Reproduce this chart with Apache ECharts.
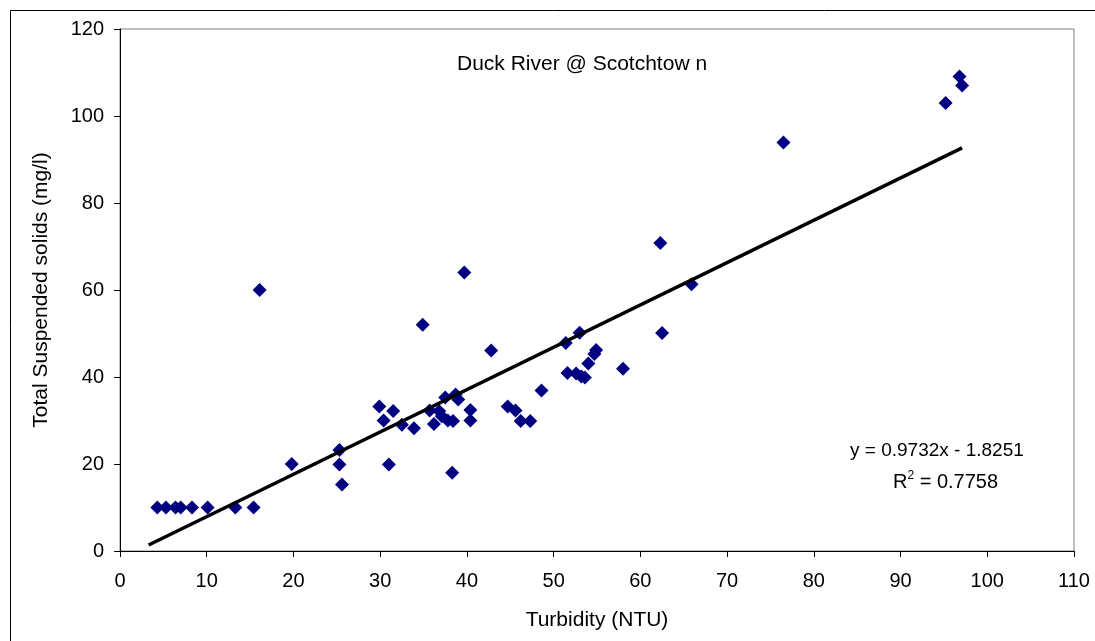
<!DOCTYPE html>
<html>
<head>
<meta charset="utf-8">
<title>Duck River @ Scotchtown</title>
<script src="https://cdn.jsdelivr.net/npm/echarts@6/dist/echarts.min.js"></script>
<style>
  html, body { margin: 0; padding: 0; background: #ffffff; }
  #chart { width: 1095px; height: 641px; }
</style>
</head>
<body>
<div id="chart"></div>
<script>
// Turbidity (NTU) readings and matching total suspended solids (mg/l)
const turbidity = [
  4.3, 5.3, 6.4, 7.0, 8.3, 10.1, 13.3, 15.4,
  16.1, 19.8, 25.3, 25.3, 25.6, 29.9, 30.4, 31.5,
  31.0, 32.5, 33.9, 34.9, 35.7, 36.8, 36.2, 37.1,
  37.5, 37.8, 38.4, 38.7, 39.0, 38.3, 39.7, 40.4,
  40.4, 42.8, 44.7, 45.6, 46.2, 47.3, 48.6, 51.4,
  51.6, 52.6, 53.0, 53.2, 53.6, 54.0, 54.7, 54.9,
  58.0, 62.3, 62.5, 65.9, 76.5, 95.2, 96.8, 97.1
];
const suspendedSolids = [
  10, 10, 10, 10, 10, 10, 10, 10,
  60, 20, 23.2, 19.9, 15.3, 33.2, 30.0, 32.2,
  19.9, 29.0, 28.2, 52.0, 32.3, 32.2, 29.2, 31.0,
  35.3, 30.0, 29.9, 36.0, 34.8, 18.0, 64.0, 32.4,
  30.0, 46.1, 33.2, 32.3, 29.9, 29.9, 36.9, 47.8,
  40.9, 40.8, 50.2, 40.1, 39.9, 43.1, 45.3, 46.2,
  41.9, 70.8, 50.1, 61.3, 93.9, 103.0, 109.1, 107.0
];

// Linear fit shown on the chart
const slope = 0.9732;
const intercept = -1.8251;
const rSquared = 0.7758;
const fitRange = [3.3, 97.1];

// Axis ticks
const xTicks = [0, 10, 20, 30, 40, 50, 60, 70, 80, 90, 100, 110];
const yTicks = [0, 20, 40, 60, 80, 100, 120];

const points = turbidity.map((x, i) => [x, suspendedSolids[i]]);
const fitLine = fitRange.map(x => [x, slope * x + intercept]);

const FONT = '"Liberation Sans", Arial, sans-serif';
const chart = echarts.init(document.getElementById('chart'), null, { renderer: 'canvas' });

chart.setOption({
  backgroundColor: '#ffffff',
  animation: false,
  textStyle: { fontFamily: FONT },
  title: {
    text: 'Duck River @ Scotchtow n',
    left: 452,
    top: 49,
    textStyle: { fontFamily: FONT, fontSize: 21, fontWeight: 'normal', color: '#000000' }
  },
  grid: {
    left: 120, right: 21, top: 29, bottom: 90,
    show: true,
    borderColor: '#808080',
    borderWidth: 1,
    backgroundColor: '#ffffff'
  },
  xAxis: {
    type: 'value',
    min: xTicks[0],
    max: xTicks[xTicks.length - 1],
    interval: xTicks[1] - xTicks[0],
    name: 'Turbidity (NTU)',
    nameLocation: 'middle',
    nameGap: 59,
    nameTextStyle: { fontFamily: FONT, fontSize: 21, color: '#000000' },
    axisLine: { show: true, onZero: false, lineStyle: { color: '#000000', width: 1 } },
    axisTick: { show: true, inside: false, length: 6, lineStyle: { color: '#000000' } },
    axisLabel: { fontFamily: FONT, fontSize: 20, color: '#000000', margin: 20 },
    splitLine: { show: false }
  },
  yAxis: {
    type: 'value',
    min: yTicks[0],
    max: yTicks[yTicks.length - 1],
    interval: yTicks[1] - yTicks[0],
    name: 'Total Suspended solids (mg/l)',
    nameLocation: 'middle',
    nameGap: 68,
    nameRotate: 90,
    nameTextStyle: { fontFamily: FONT, fontSize: 21, color: '#000000' },
    axisLine: { show: true, onZero: false, lineStyle: { color: '#000000', width: 1 } },
    axisTick: { show: true, inside: false, length: 6, lineStyle: { color: '#000000' } },
    axisLabel: { fontFamily: FONT, fontSize: 20, color: '#000000', margin: 16 },
    splitLine: { show: false }
  },
  series: [
    {
      name: 'TSS',
      type: 'scatter',
      data: points,
      symbol: 'diamond',
      symbolSize: 14,
      itemStyle: { color: '#000080', opacity: 1 },
      z: 3
    },
    {
      name: 'Linear fit',
      type: 'line',
      data: fitLine,
      showSymbol: false,
      symbol: 'none',
      lineStyle: { color: '#000000', width: 3.5 },
      z: 4
    }
  ],
  graphic: [
    {
      // outer chart frame
      type: 'rect',
      left: 8, top: 8,
      shape: { width: 1100, height: 700 },
      style: { fill: 'none', stroke: '#000000', lineWidth: 1 },
      silent: true,
      z: -1
    },
    {
      type: 'text',
      left: 850,
      top: 441,
      style: {
        text: 'y = ' + slope.toFixed(4) + 'x - ' + Math.abs(intercept).toFixed(4),
        font: '19px ' + FONT,
        fill: '#000000'
      },
      z: 10
    },
    {
      type: 'text',
      left: 893,
      top: 470,
      style: {
        text: '{b|R}{s|2}{b| = ' + rSquared.toFixed(4) + '}',
        rich: {
          b: { font: '20px ' + FONT, fill: '#000000', verticalAlign: 'bottom' },
          s: { font: '12px ' + FONT, fill: '#000000', verticalAlign: 'top', padding: [0, 0, 10, 0] }
        }
      },
      z: 10
    }
  ]
});
</script>
</body>
</html>
